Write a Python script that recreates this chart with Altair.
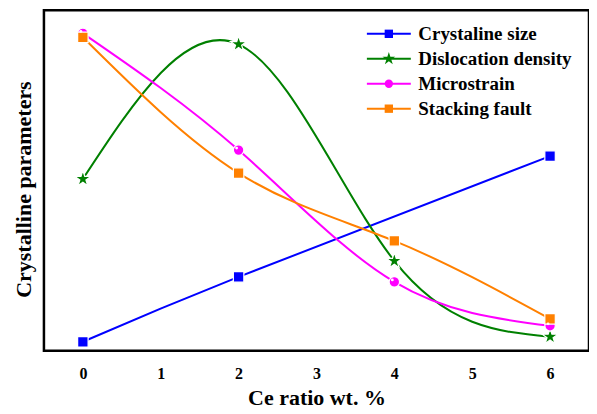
import altair as alt
import pandas as pd

# ---- data (y in arbitrary units) ----
names = ["Crystaline size", "Dislocation density", "Microstrain", "Stacking fault"]
colors = ["#0000FF", "#008000", "#FF00FF", "#FF8000"]

x_cs = [0, 2, 6]
crystaline_size = [9, 74, 195]

x_all = [0, 2, 4, 6]
dislocation_density = [172, 307, 90, 14]
microstrain = [318, 201, 69, 25]
stacking_fault = [314, 178, 110, 32]

x_ticks = [0, 1, 2, 3, 4, 5, 6]

star = ("M0,-1.6L0.359,-0.494L1.522,-0.494L0.582,0.188L0.940,1.294L0,0.612"
        "L-0.940,1.294L-0.582,0.188L-1.522,-0.494L-0.359,-0.494Z")
shapes = ["square", star, "circle", "square"]

rows = []
for xv, yv in zip(x_cs, crystaline_size):
    rows.append({"x": xv, "y": yv, "series": names[0]})
for name, vals in zip(names[1:], [dislocation_density, microstrain, stacking_fault]):
    for xv, yv in zip(x_all, vals):
        rows.append({"x": xv, "y": yv, "series": name})
df = pd.DataFrame(rows)

FONT = "Liberation Serif"

xenc = alt.X("x:Q", scale=alt.Scale(domain=[-0.5, 6.5], nice=False, zero=False),
             axis=alt.Axis(values=x_ticks, title="Ce ratio wt. %", labelAngle=0,
                           grid=False, ticks=False, tickSize=0, domain=False,
                           labelFont=FONT, labelFontSize=16, labelFontWeight="bold",
                           labelColor="black", labelPadding=15,
                           titleFont=FONT, titleFontSize=22, titleFontWeight="bold",
                           titleColor="black", titlePadding=6))
yenc = alt.Y("y:Q", scale=alt.Scale(domain=[0, 341], nice=False),
             axis=alt.Axis(labels=False, ticks=False, grid=False, domain=False,
                           title="Crystalline parameters",
                           titleFont=FONT, titleFontSize=22, titleFontWeight="bold",
                           titleColor="black", titlePadding=8, titleY=179))

leg_common = dict(orient="none", title=None, labelFont=FONT, labelFontSize=19,
                  labelFontWeight="bold", labelColor="black", labelLimit=0,
                  rowPadding=5, legendY=14, legendX=336, labelOffset=20)

lines = alt.Chart(df).mark_line(interpolate="natural", strokeWidth=2).encode(
    x=xenc, y=yenc,
    stroke=alt.Stroke("series:N",
                      scale=alt.Scale(domain=names, range=colors),
                      legend=alt.Legend(symbolType="M-4,0L4,0", symbolSize=121,
                                        symbolStrokeWidth=2, symbolFillColor="transparent",
                                        **leg_common)),
)

points = alt.Chart(df).mark_point(filled=True, size=110, opacity=1,
                                  stroke="white", strokeWidth=1.2).encode(
    x=xenc, y=yenc,
    fill=alt.Fill("series:N", scale=alt.Scale(range=colors),
                  legend=alt.Legend(symbolSize=70, labelOpacity=0,
                                    symbolStrokeWidth=0, **leg_common)),
    shape=alt.Shape("series:N", scale=alt.Scale(range=shapes),
                    legend=alt.Legend(symbolSize=70, labelOpacity=0,
                                      symbolStrokeWidth=0, **leg_common)),
)

highlight = alt.Chart(df[df["series"] == names[2]]).mark_point(
    filled=True, size=8, color="white", opacity=1, xOffset=-2, yOffset=-2, shape="circle"
).encode(x=xenc, y=yenc)

chart = alt.layer(lines, points, highlight).properties(
    width=546, height=341,
    autosize=alt.AutoSizeParams(type="none"),
    padding={"left": 36, "top": 2, "right": 0, "bottom": 62},
).configure_view(stroke="black", strokeWidth=2.5)

chart.save("out.html", embed_options={"renderer": "svg", "actions": False})
